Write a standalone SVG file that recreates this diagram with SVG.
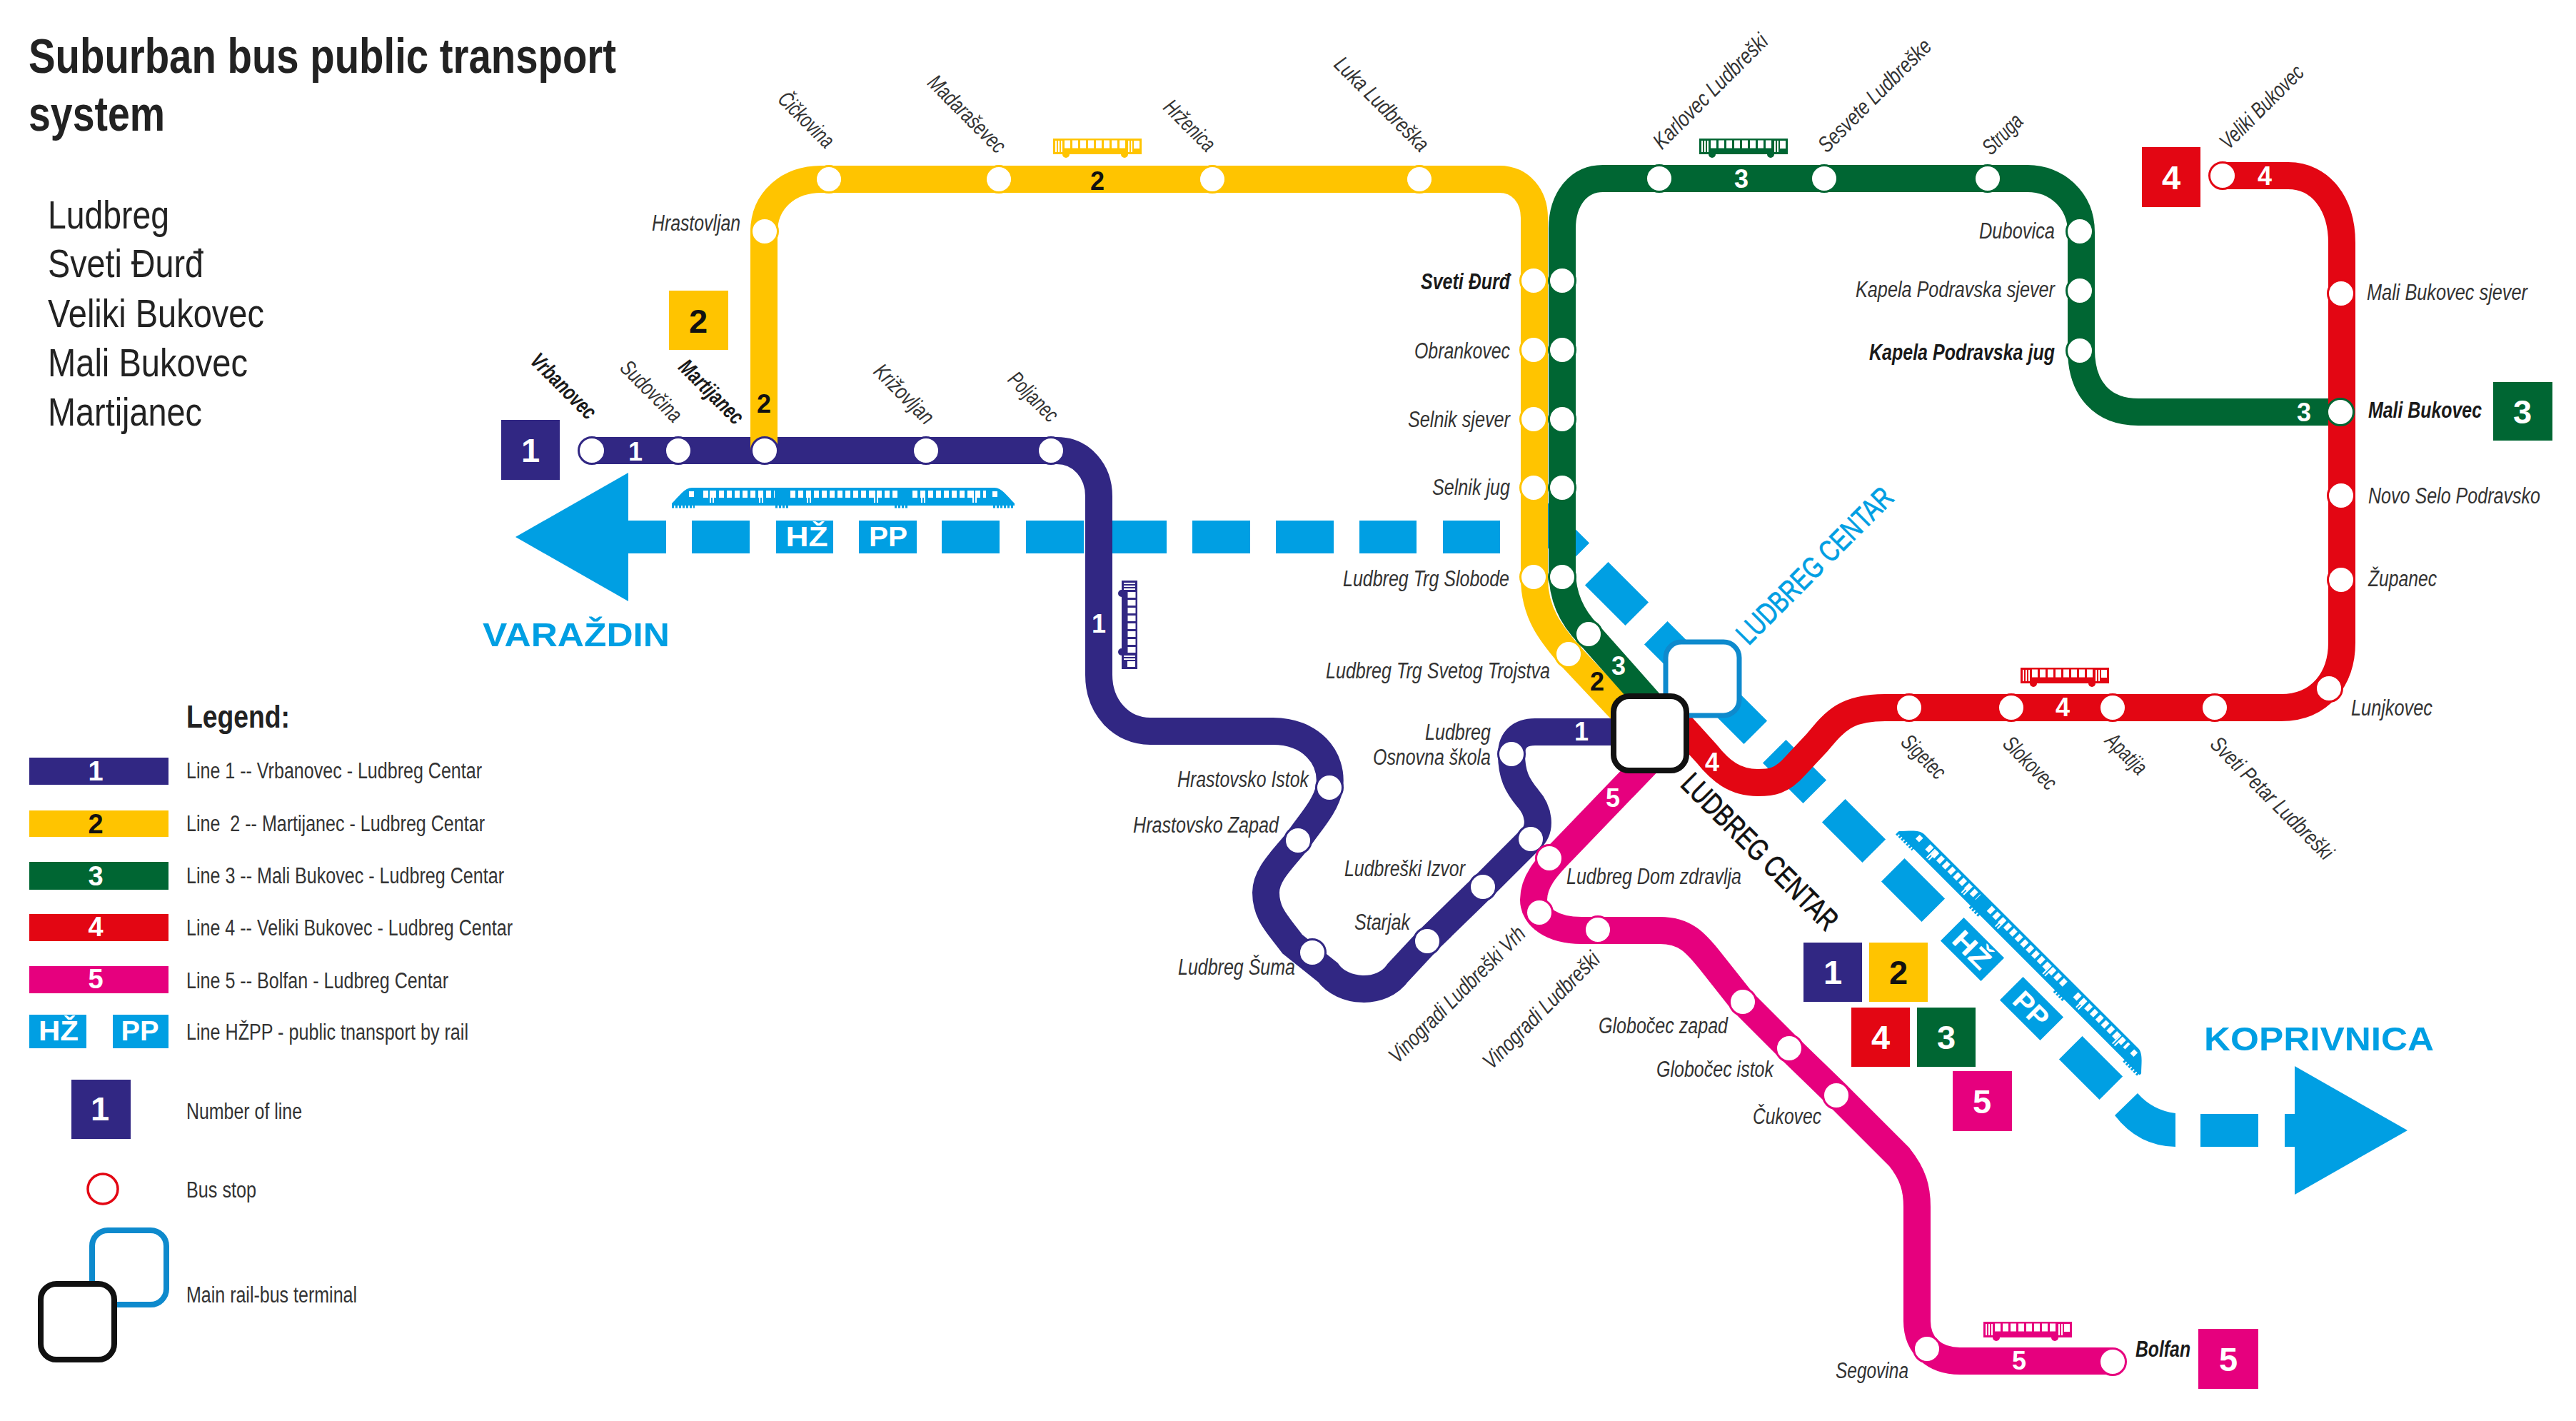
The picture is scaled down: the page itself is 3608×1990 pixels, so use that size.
<svg xmlns="http://www.w3.org/2000/svg" xmlns:xlink="http://www.w3.org/1999/xlink" width="3608" height="1990" viewBox="0 0 3608 1990">
<style>
text{font-family:"Liberation Sans",Arial,sans-serif}
.lb{font-size:31px;font-style:italic;fill:#333;}
.lbb{font-size:31px;font-style:italic;font-weight:bold;fill:#1a1a1a}
.n{font-size:36px;font-weight:bold;text-anchor:middle}
.w{fill:#fff}.k{fill:#111}
.bd{font-size:47px;font-weight:bold;text-anchor:middle}
.lg{font-size:31px;fill:#333}
.ld{font-size:38px;font-weight:bold;text-anchor:middle}
.city{font-size:56px;fill:#222}
.line{fill:none;stroke-width:38}
.s circle{stroke-width:3;fill:#fff}
.p circle,.p.x{stroke:#312783}.y circle{stroke:#FFC400}.g circle{stroke:#006633}.r circle{stroke:#E30613}.m circle{stroke:#E6007E}
.rl{fill:#009FE3}
.rt{font-size:38px;font-weight:bold;fill:#fff;text-anchor:middle}
</style>
<defs>
<g id="train">
<path d="M-240,8C-230,-2-222,-14-212,-14H212C222,-14 230,-2 240,8V11H-240Z"/>
<path d="M-240,12H-208M-95,12H-75M72,12H92M210,12H240" fill="none" stroke="#009FE3" stroke-width="5" stroke-dasharray="3 2"/>
<path d="M-196,-5H-96M-74,-5H76M97,-5H200" fill="none" stroke="#fff" stroke-width="10" stroke-dasharray="7 4"/>
<path d="M-186,-10V7M-182,-10V7M-117,-10V7M-113,-10V7M-50,-10V7M-46,-10V7M44,-10V7M48,-10V7M110,-10V7M114,-10V7M182,-10V7M186,-10V7" fill="none" stroke="#fff" stroke-width="2"/>
<rect x="-216" y="-9" width="7" height="8" fill="#fff"/><rect x="209" y="-9" width="7" height="8" fill="#fff"/>
</g>
<g id="bus">
<rect x="-62" y="-13" width="124" height="22"/>
<circle cx="-44" cy="9" r="5"/><circle cx="38" cy="9" r="5"/>
<path d="M-46,-5H42" fill="none" stroke="#fff" stroke-width="11" stroke-dasharray="8 3"/>
<path d="M-58,-10V6M-54,-10V6M-50,-10V6M44,-10V6M48,-10V6" fill="none" stroke="#fff" stroke-width="2"/>
<rect x="51" y="-10" width="8" height="11" fill="#fff"/>
</g>
</defs>
<rect width="3608" height="1990" fill="#fff"/>

<g id="title">
<text x="40" y="102" font-size="68" font-weight="bold" fill="#222" textLength="823" lengthAdjust="spacingAndGlyphs">Suburban bus public transport</text>
<text x="40" y="183" font-size="68" font-weight="bold" fill="#222" textLength="191" lengthAdjust="spacingAndGlyphs">system</text>
</g>
<g id="municipalities">
<text class="city" x="67" y="320" textLength="170" lengthAdjust="spacingAndGlyphs">Ludbreg</text>
<text class="city" x="67" y="388" textLength="218" lengthAdjust="spacingAndGlyphs">Sveti Đurđ</text>
<text class="city" x="67" y="458" textLength="303" lengthAdjust="spacingAndGlyphs">Veliki Bukovec</text>
<text class="city" x="67" y="527" textLength="280" lengthAdjust="spacingAndGlyphs">Mali Bukovec</text>
<text class="city" x="67" y="596" textLength="216" lengthAdjust="spacingAndGlyphs">Martijanec</text>
</g>

<g id="rail">
<polygon class="rl" points="722,752 880,662 880,729 933,729 933,775 880,775 880,842"/>
<rect class="rl" x="969" y="729" width="81" height="46"/>
<rect class="rl" x="1087" y="729" width="80" height="46"/>
<rect class="rl" x="1203" y="729" width="81" height="46"/>
<rect class="rl" x="1319" y="729" width="81" height="46"/>
<rect class="rl" x="1437" y="729" width="81" height="46"/>
<rect class="rl" x="1554" y="729" width="80" height="46"/>
<rect class="rl" x="1670" y="729" width="81" height="46"/>
<rect class="rl" x="1787" y="729" width="81" height="46"/>
<rect class="rl" x="1904" y="729" width="80" height="46"/>
<rect class="rl" x="2021" y="729" width="80" height="46"/>
<g class="rl">
<rect x="-40" y="-23" width="80" height="46" transform="translate(2181.5 748.5) rotate(45)"/>
<rect x="-40" y="-23" width="80" height="46" transform="translate(2264.5 831.5) rotate(45)"/>
<rect x="-40" y="-23" width="80" height="46" transform="translate(2347.5 914.5) rotate(45)"/>
<rect x="-40" y="-23" width="80" height="46" transform="translate(2430.5 997.5) rotate(45)"/>
<rect x="-40" y="-23" width="80" height="46" transform="translate(2513.5 1080.5) rotate(45)"/>
<rect x="-40" y="-23" width="80" height="46" transform="translate(2596.5 1163.5) rotate(45)"/>
<rect x="-40" y="-23" width="80" height="46" transform="translate(2679.5 1246.5) rotate(45)"/>
<rect x="-40" y="-23" width="80" height="46" transform="translate(2762.5 1329.5) rotate(45)"/>
<rect x="-40" y="-23" width="80" height="46" transform="translate(2845.5 1412.5) rotate(45)"/>
<rect x="-40" y="-23" width="80" height="46" transform="translate(2928.5 1495.5) rotate(45)"/>
</g>
<path class="rl" d="M2994,1531Q3015,1555 3047,1559V1606Q2995,1605 2962,1562Z"/>
<rect class="rl" x="3082" y="1560" width="81" height="46"/>
<polygon class="rl" points="3372,1583 3214,1493 3214,1560 3200,1560 3200,1606 3214,1606 3214,1673"/>
<text class="rt" x="1130" y="765" textLength="59" lengthAdjust="spacingAndGlyphs">HŽ</text>
<text class="rt" x="1244" y="765" textLength="54" lengthAdjust="spacingAndGlyphs">PP</text>
<text class="rt" transform="translate(2762.5 1329.5) rotate(45)" y="14" textLength="59" lengthAdjust="spacingAndGlyphs">HŽ</text>
<text class="rt" transform="translate(2845.5 1412.5) rotate(45)" y="14" textLength="54" lengthAdjust="spacingAndGlyphs">PP</text>
<use href="#train" fill="#009FE3" transform="translate(1181 697)"/>
<use href="#train" fill="#009FE3" transform="translate(2835 1328) rotate(45)"/>
<text x="676" y="905" font-size="46" font-weight="bold" fill="#009FE3" textLength="262" lengthAdjust="spacingAndGlyphs">VARAŽDIN</text>
<text x="3087" y="1471" font-size="46" font-weight="bold" fill="#009FE3" textLength="322" lengthAdjust="spacingAndGlyphs">KOPRIVNICA</text>
</g>

<g id="connectors">
<path id="line-1" class="line" stroke="#312783" d="M829,631H1480C1515,631 1539,660 1539,695V945C1539,990 1570,1024 1611,1024H1783C1835,1024 1868,1060 1862,1103C1857,1130 1832,1155 1818,1177C1795,1205 1773,1225 1773,1250C1773,1280 1790,1295 1810,1322L1860,1362C1880,1390 1935,1395 1958,1362L1999,1318L2077,1242L2144,1175C2160,1160 2155,1135 2140,1118C2125,1100 2117,1085 2117,1056C2117,1035 2130,1025 2150,1025H2270"/>
<path id="line-2" class="line" stroke="#FFC400" d="M1070,631V325C1070,280 1105,251 1150,251H2100C2130,251 2149,275 2149,305V810C2149,860 2175,890 2197,916L2290,1015"/>
<path id="line-3" class="line" stroke="#006633" d="M3279,577H2995C2945,577 2915,545 2915,490V325C2915,280 2880,250 2840,250H2245C2210,250 2188,280 2188,320V800C2188,840 2205,868 2225,888L2320,995"/>
<path id="line-4" class="line" stroke="#E30613" d="M3113,246H3205C3250,246 3280,285 3280,340V900C3280,950 3250,991 3195,991H2640C2585,991 2570,1010 2545,1040L2515,1072C2495,1095 2480,1096 2462,1096C2430,1096 2410,1080 2390,1055L2340,1000"/>
<path id="line-5" class="line" stroke="#E6007E" d="M2320,1055L2190,1190C2165,1215 2148,1235 2148,1260C2148,1285 2175,1303 2215,1303H2325C2360,1303 2375,1320 2395,1345L2441,1403L2506,1468L2573,1533L2660,1620C2680,1645 2685,1665 2685,1690V1850C2685,1885 2710,1906 2745,1906H2959"/>
</g>

<g id="line-numbers">
<text class="n w" x="890" y="645">1</text>
<text class="n w" x="1539" y="886">1</text>
<text class="n w" x="2215" y="1037">1</text>
<text class="n k" x="1070" y="578">2</text>
<text class="n k" x="1537" y="266">2</text>
<text class="n k" x="2237" y="967">2</text>
<text class="n w" x="2439" y="263">3</text>
<text class="n w" x="3227" y="590">3</text>
<text class="n w" x="2267" y="945">3</text>
<text class="n w" x="3172" y="259">4</text>
<text class="n w" x="2889" y="1003">4</text>
<text class="n w" x="2398" y="1080">4</text>
<text class="n w" x="2259" y="1130">5</text>
<text class="n w" x="2828" y="1918">5</text>
</g>

<g id="buses">
<use href="#bus" fill="#312783" transform="translate(1580 875) rotate(90)"/>
<use href="#bus" fill="#FFC400" transform="translate(1537 207)"/>
<use href="#bus" fill="#006633" transform="translate(2442 207)"/>
<use href="#bus" fill="#E30613" transform="translate(2892 948)"/>
<use href="#bus" fill="#E6007E" transform="translate(2840 1864)"/>
</g>

<g id="stop-vrbanovec" class="s p"><circle cx="829" cy="631" r="18.5"/><text class="lbb" transform="translate(789 541) rotate(45)" y="10" text-anchor="middle" textLength="116" lengthAdjust="spacingAndGlyphs">Vrbanovec</text></g>
<g id="stop-sudovcina" class="s p"><circle cx="950" cy="631" r="18.5"/><text class="lb" transform="translate(912 548) rotate(45)" y="10" text-anchor="middle" textLength="108" lengthAdjust="spacingAndGlyphs">Sudovčina</text></g>
<g id="stop-martijanec" class="s p"><circle cx="1071" cy="631" r="18.5"/><text class="lbb" transform="translate(996 549) rotate(45)" y="10" text-anchor="middle" textLength="114" lengthAdjust="spacingAndGlyphs">Martijanec</text></g>
<g id="stop-krizovljan" class="s p"><circle cx="1297" cy="631" r="18.5"/><text class="lb" transform="translate(1266 552) rotate(45)" y="10" text-anchor="middle" textLength="105" lengthAdjust="spacingAndGlyphs">Križovljan</text></g>
<g id="stop-poljanec" class="s p"><circle cx="1472" cy="631" r="18.5"/><text class="lb" transform="translate(1447 556) rotate(45)" y="10" text-anchor="middle" textLength="85" lengthAdjust="spacingAndGlyphs">Poljanec</text></g>
<g id="stop-hrastovsko-istok" class="s p"><circle cx="1862" cy="1103" r="18.5"/><text class="lb" x="1649" y="1102" textLength="184" lengthAdjust="spacingAndGlyphs">Hrastovsko Istok</text></g>
<g id="stop-hrastovsko-zapad" class="s p"><circle cx="1818" cy="1177" r="18.5"/><text class="lb" x="1587" y="1166" textLength="204" lengthAdjust="spacingAndGlyphs">Hrastovsko Zapad</text></g>
<g id="stop-ludbreg-suma" class="s p"><circle cx="1838" cy="1334" r="18.5"/><text class="lb" x="1650" y="1365" textLength="164" lengthAdjust="spacingAndGlyphs">Ludbreg Šuma</text></g>
<g id="stop-starjak" class="s p"><circle cx="1999" cy="1318" r="18.5"/><text class="lb" x="1897" y="1302" textLength="78" lengthAdjust="spacingAndGlyphs">Starjak</text></g>
<g id="stop-ludbreski-izvor" class="s p"><circle cx="2077" cy="1242" r="18.5"/><circle cx="2144" cy="1175" r="18.5"/><text class="lb" x="1883" y="1227" textLength="169" lengthAdjust="spacingAndGlyphs">Ludbreški Izvor</text></g>
<g id="stop-osnovna-skola" class="s p"><circle cx="2117" cy="1056" r="18.5"/><text class="lb" x="1996" y="1036" textLength="92" lengthAdjust="spacingAndGlyphs">Ludbreg</text><text class="lb" x="1923" y="1071" textLength="165" lengthAdjust="spacingAndGlyphs">Osnovna škola</text></g>

<g id="stop-hrastovljan" class="s y"><circle cx="1071" cy="324" r="18.5"/><text class="lb" x="913" y="323" textLength="124" lengthAdjust="spacingAndGlyphs">Hrastovljan</text></g>
<g id="stop-cickovina" class="s y"><circle cx="1161" cy="251" r="18.5"/><text class="lb" transform="translate(1129 168) rotate(45)" y="10" text-anchor="middle" textLength="97" lengthAdjust="spacingAndGlyphs">Čičkovina</text></g>
<g id="stop-madarasevec" class="s y"><circle cx="1399" cy="251" r="18.5"/><text class="lb" transform="translate(1354 160) rotate(45)" y="10" text-anchor="middle" textLength="140" lengthAdjust="spacingAndGlyphs">Madaraševec</text></g>
<g id="stop-hrzenica" class="s y"><circle cx="1698" cy="251" r="18.5"/><text class="lb" transform="translate(1666 176) rotate(45)" y="10" text-anchor="middle" textLength="88" lengthAdjust="spacingAndGlyphs">Hrženica</text></g>
<g id="stop-luka-ludbreska" class="s y"><circle cx="1988" cy="251" r="18.5"/><text class="lb" transform="translate(1935 146) rotate(45)" y="10" text-anchor="middle" textLength="173" lengthAdjust="spacingAndGlyphs">Luka Ludbreška</text></g>
<g id="stop-sveti-durd" class="s y"><circle cx="2148" cy="393" r="18.5"/><circle cx="2188" cy="393" r="18.5" style="stroke:#006633"/><text class="lbb" x="1990" y="405" textLength="125" lengthAdjust="spacingAndGlyphs">Sveti Đurđ</text></g>
<g id="stop-obrankovec" class="s y"><circle cx="2148" cy="490" r="18.5"/><circle cx="2188" cy="490" r="18.5" style="stroke:#006633"/><text class="lb" x="1981" y="502" textLength="134" lengthAdjust="spacingAndGlyphs">Obrankovec</text></g>
<g id="stop-selnik-sjever" class="s y"><circle cx="2148" cy="587" r="18.5"/><circle cx="2188" cy="587" r="18.5" style="stroke:#006633"/><text class="lb" x="1972" y="598" textLength="143" lengthAdjust="spacingAndGlyphs">Selnik sjever</text></g>
<g id="stop-selnik-jug" class="s y"><circle cx="2148" cy="683" r="18.5"/><circle cx="2188" cy="683" r="18.5" style="stroke:#006633"/><text class="lb" x="2006" y="693" textLength="109" lengthAdjust="spacingAndGlyphs">Selnik jug</text></g>
<g id="stop-trg-slobode" class="s y"><circle cx="2148" cy="808" r="18.5"/><circle cx="2188" cy="808" r="18.5" style="stroke:#006633"/><text class="lb" x="1881" y="821" textLength="233" lengthAdjust="spacingAndGlyphs">Ludbreg Trg Slobode</text></g>
<g id="stop-trg-trojstva" class="s g"><circle cx="2225" cy="888" r="18.5"/><circle cx="2197" cy="916" r="18.5" style="stroke:#FFC400"/><text class="lb" x="1857" y="950" textLength="314" lengthAdjust="spacingAndGlyphs">Ludbreg Trg Svetog Trojstva</text></g>

<g id="stop-karlovec" class="s g"><circle cx="2324" cy="250" r="18.5"/><text class="lb" transform="translate(2396 128) rotate(-45)" y="10" text-anchor="middle" textLength="213" lengthAdjust="spacingAndGlyphs">Karlovec Ludbreški</text></g>
<g id="stop-sesvete" class="s g"><circle cx="2555" cy="250" r="18.5"/><text class="lb" transform="translate(2626 134) rotate(-45)" y="10" text-anchor="middle" textLength="210" lengthAdjust="spacingAndGlyphs">Sesvete Ludbreške</text></g>
<g id="stop-struga" class="s g"><circle cx="2784" cy="250" r="18.5"/><text class="lb" transform="translate(2805 188) rotate(-45)" y="10" text-anchor="middle" textLength="66" lengthAdjust="spacingAndGlyphs">Struga</text></g>
<g id="stop-dubovica" class="s g"><circle cx="2913" cy="324" r="18.5"/><text class="lb" x="2772" y="334" textLength="106" lengthAdjust="spacingAndGlyphs">Dubovica</text></g>
<g id="stop-kapela-sjever" class="s g"><circle cx="2913" cy="407" r="18.5"/><text class="lb" x="2599" y="416" textLength="279" lengthAdjust="spacingAndGlyphs">Kapela Podravska sjever</text></g>
<g id="stop-kapela-jug" class="s g"><circle cx="2913" cy="491" r="18.5"/><text class="lbb" x="2618" y="504" textLength="260" lengthAdjust="spacingAndGlyphs">Kapela Podravska jug</text></g>
<g id="stop-mali-bukovec" class="s g"><circle cx="3278" cy="577" r="18.5"/><text class="lbb" x="3317" y="585" textLength="159" lengthAdjust="spacingAndGlyphs">Mali Bukovec</text></g>

<g id="stop-veliki-bukovec" class="s r"><circle cx="3113" cy="246" r="18.5"/><text class="lb" transform="translate(3168 150) rotate(-45)" y="10" text-anchor="middle" textLength="152" lengthAdjust="spacingAndGlyphs">Veliki Bukovec</text></g>
<g id="stop-mali-bukovec-sjever" class="s r"><circle cx="3279" cy="411" r="18.5"/><text class="lb" x="3315" y="420" textLength="225" lengthAdjust="spacingAndGlyphs">Mali Bukovec sjever</text></g>
<g id="stop-novo-selo" class="s r"><circle cx="3279" cy="694" r="18.5"/><text class="lb" x="3317" y="705" textLength="241" lengthAdjust="spacingAndGlyphs">Novo Selo Podravsko</text></g>
<g id="stop-zupanec" class="s r"><circle cx="3279" cy="812" r="18.5"/><text class="lb" x="3317" y="821" textLength="96" lengthAdjust="spacingAndGlyphs">Županec</text></g>
<g id="stop-lunjkovec" class="s r"><circle cx="3262" cy="964" r="18.5"/><text class="lb" x="3293" y="1002" textLength="114" lengthAdjust="spacingAndGlyphs">Lunjkovec</text></g>
<g id="stop-sveti-petar" class="s r"><circle cx="3102" cy="991" r="18.5"/><text class="lb" transform="translate(3182 1118) rotate(45)" y="10" text-anchor="middle" textLength="229" lengthAdjust="spacingAndGlyphs">Sveti Petar Ludbreški</text></g>
<g id="stop-apatija" class="s r"><circle cx="2959" cy="991" r="18.5"/><text class="lb" transform="translate(2978 1056) rotate(45)" y="10" text-anchor="middle" textLength="68" lengthAdjust="spacingAndGlyphs">Apatija</text></g>
<g id="stop-slokovec" class="s r"><circle cx="2817" cy="991" r="18.5"/><text class="lb" transform="translate(2843 1069) rotate(45)" y="10" text-anchor="middle" textLength="92" lengthAdjust="spacingAndGlyphs">Slokovec</text></g>
<g id="stop-sigetec" class="s r"><circle cx="2674" cy="991" r="18.5"/><text class="lb" transform="translate(2694 1060) rotate(45)" y="10" text-anchor="middle" textLength="74" lengthAdjust="spacingAndGlyphs">Sigetec</text></g>

<g id="stop-dom-zdravlja" class="s m"><circle cx="2170" cy="1202" r="18.5"/><text class="lb" x="2194" y="1238" textLength="245" lengthAdjust="spacingAndGlyphs">Ludbreg Dom zdravlja</text></g>
<g id="stop-vinogradi-vrh" class="s m"><circle cx="2156" cy="1278" r="18.5"/><text class="lb" transform="translate(2041 1393) rotate(-45)" y="10" text-anchor="middle" textLength="256" lengthAdjust="spacingAndGlyphs">Vinogradi Ludbreški Vrh</text></g>
<g id="stop-vinogradi" class="s m"><circle cx="2238" cy="1302" r="18.5"/><text class="lb" transform="translate(2159 1415) rotate(-45)" y="10" text-anchor="middle" textLength="217" lengthAdjust="spacingAndGlyphs">Vinogradi Ludbreški</text></g>
<g id="stop-globocec-zapad" class="s m"><circle cx="2441" cy="1403" r="18.5"/><text class="lb" x="2239" y="1447" textLength="181" lengthAdjust="spacingAndGlyphs">Globočec zapad</text></g>
<g id="stop-globocec-istok" class="s m"><circle cx="2506" cy="1468" r="18.5"/><text class="lb" x="2320" y="1508" textLength="164" lengthAdjust="spacingAndGlyphs">Globočec istok</text></g>
<g id="stop-cukovec" class="s m"><circle cx="2572" cy="1534" r="18.5"/><text class="lb" x="2455" y="1574" textLength="96" lengthAdjust="spacingAndGlyphs">Čukovec</text></g>
<g id="stop-segovina" class="s m"><circle cx="2699" cy="1889" r="18.5"/><text class="lb" x="2571" y="1930" textLength="102" lengthAdjust="spacingAndGlyphs">Segovina</text></g>
<g id="stop-bolfan" class="s m"><circle cx="2959" cy="1907" r="18.5"/><text class="lbb" x="2991" y="1900" textLength="77" lengthAdjust="spacingAndGlyphs">Bolfan</text></g>

<g id="terminal-rail">
<rect x="2333" y="899" width="103" height="103" rx="22" fill="#fff" stroke="#0E8ACD" stroke-width="7"/>
<text transform="translate(2449 905) rotate(-45)" font-size="42" fill="#009FE3" stroke="#009FE3" stroke-width="0.8" textLength="291" lengthAdjust="spacingAndGlyphs">LUDBREG CENTAR</text>
</g>
<g id="terminal-bus">
<rect x="2260" y="975" width="102" height="104" rx="22" fill="#fff" stroke="#111" stroke-width="8"/>
<text transform="translate(2352 1100) rotate(45)" font-size="42" fill="#111" stroke="#111" stroke-width="0.8" textLength="291" lengthAdjust="spacingAndGlyphs">LUDBREG CENTAR</text>
</g>

<g id="badge-1-vrbanovec"><rect x="702" y="588" width="82" height="84" fill="#312783"/><text class="bd w" x="743" y="647">1</text></g>
<g id="badge-2-martijanec"><rect x="937" y="407" width="83" height="83" fill="#FFC400"/><text class="bd k" x="978" y="466">2</text></g>
<g id="badge-4-veliki"><rect x="3000" y="206" width="82" height="84" fill="#E30613"/><text class="bd w" x="3041" y="265">4</text></g>
<g id="badge-3-mali"><rect x="3492" y="535" width="83" height="82" fill="#006633"/><text class="bd w" x="3533" y="593">3</text></g>
<g id="badge-5-bolfan"><rect x="3079" y="1861" width="84" height="84" fill="#E6007E"/><text class="bd w" x="3121" y="1920">5</text></g>
<g id="badge-1-centar"><rect x="2526" y="1320" width="82" height="83" fill="#312783"/><text class="bd w" x="2567" y="1378">1</text></g>
<g id="badge-2-centar"><rect x="2618" y="1320" width="82" height="83" fill="#FFC400"/><text class="bd k" x="2659" y="1378">2</text></g>
<g id="badge-4-centar"><rect x="2593" y="1411" width="82" height="83" fill="#E30613"/><text class="bd w" x="2634" y="1469">4</text></g>
<g id="badge-3-centar"><rect x="2685" y="1411" width="82" height="83" fill="#006633"/><text class="bd w" x="2726" y="1469">3</text></g>
<g id="badge-5-centar"><rect x="2735" y="1500" width="83" height="84" fill="#E6007E"/><text class="bd w" x="2776" y="1559">5</text></g>

<g id="legend">
<text x="261" y="1019" font-size="44" font-weight="bold" fill="#222" textLength="145" lengthAdjust="spacingAndGlyphs">Legend:</text>
<rect x="41" y="1061" width="195" height="38" fill="#312783"/><text class="ld w" x="134" y="1093">1</text>
<rect x="41" y="1135" width="195" height="37" fill="#FFC400"/><text class="ld k" x="134" y="1167">2</text>
<rect x="41" y="1207" width="195" height="39" fill="#006633"/><text class="ld w" x="134" y="1240">3</text>
<rect x="41" y="1280" width="195" height="38" fill="#E30613"/><text class="ld w" x="134" y="1311">4</text>
<rect x="41" y="1353" width="195" height="38" fill="#E6007E"/><text class="ld w" x="134" y="1384">5</text>
<rect class="rl" x="41" y="1421" width="80" height="47"/><text class="rt" x="82" y="1457" font-size="36" textLength="56" lengthAdjust="spacingAndGlyphs">HŽ</text>
<rect class="rl" x="158" y="1421" width="78" height="47"/><text class="rt" x="196" y="1457" textLength="53" lengthAdjust="spacingAndGlyphs">PP</text>
<text class="lg" x="261" y="1090" textLength="414" lengthAdjust="spacingAndGlyphs">Line 1 -- Vrbanovec - Ludbreg Centar</text>
<text class="lg" x="261" y="1164" textLength="418" lengthAdjust="spacingAndGlyphs" xml:space="preserve">Line  2 -- Martijanec - Ludbreg Centar</text>
<text class="lg" x="261" y="1237" textLength="445" lengthAdjust="spacingAndGlyphs">Line 3 -- Mali Bukovec - Ludbreg Centar</text>
<text class="lg" x="261" y="1310" textLength="457" lengthAdjust="spacingAndGlyphs">Line 4 -- Veliki Bukovec - Ludbreg Centar</text>
<text class="lg" x="261" y="1384" textLength="367" lengthAdjust="spacingAndGlyphs">Line 5 -- Bolfan - Ludbreg Centar</text>
<text class="lg" x="261" y="1456" textLength="395" lengthAdjust="spacingAndGlyphs">Line HŽPP - public tnansport by rail</text>
<rect x="100" y="1512" width="83" height="83" fill="#312783"/><text class="bd w" x="140" y="1569">1</text>
<text class="lg" x="261" y="1567" textLength="162" lengthAdjust="spacingAndGlyphs">Number of line</text>
<circle cx="144" cy="1665" r="21" fill="#fff" stroke="#E30613" stroke-width="3.5"/>
<text class="lg" x="261" y="1677" textLength="98" lengthAdjust="spacingAndGlyphs">Bus stop</text>
<rect x="129" y="1723" width="104" height="104" rx="22" fill="#fff" stroke="#0E8ACD" stroke-width="8"/>
<rect x="57" y="1798" width="103" height="106" rx="22" fill="#fff" stroke="#111" stroke-width="8"/>
<text class="lg" x="261" y="1824" textLength="239" lengthAdjust="spacingAndGlyphs">Main rail-bus terminal</text>
</g>
</svg>
